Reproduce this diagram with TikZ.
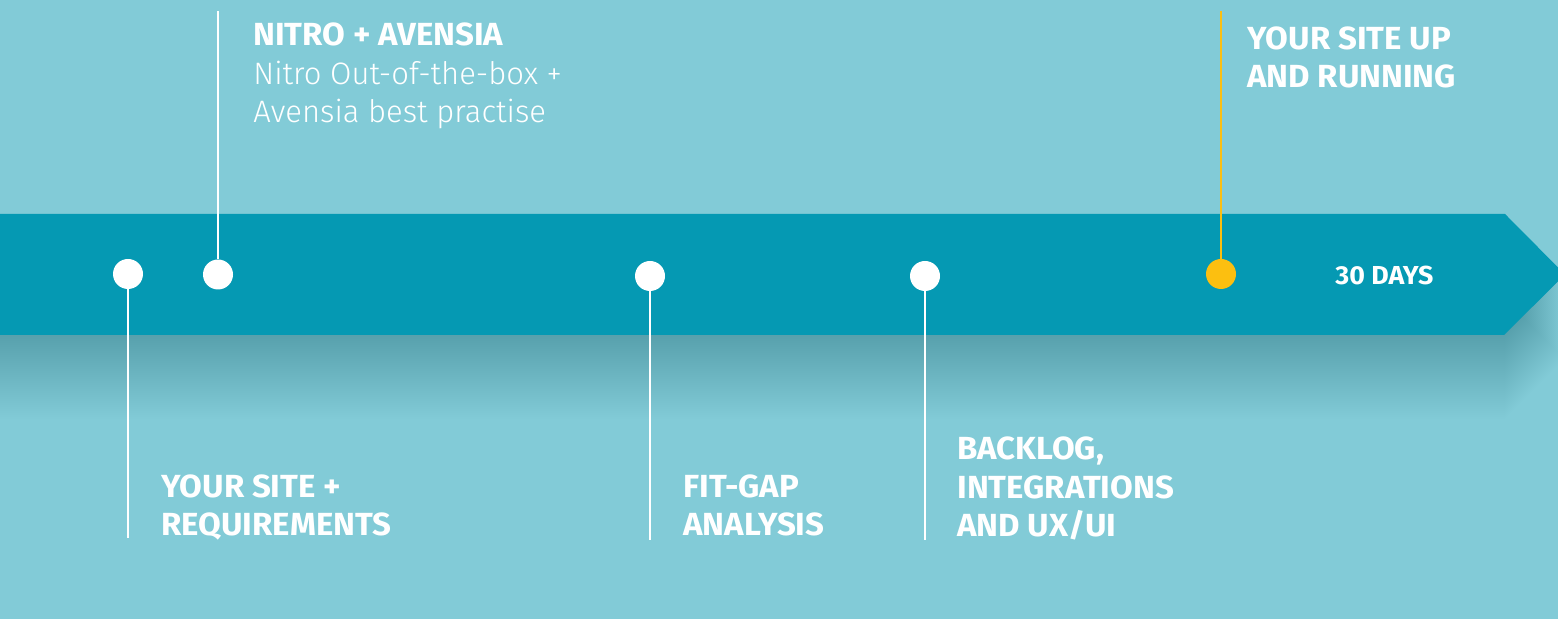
\documentclass[tikz,border=0pt]{standalone}
\usepackage{fontspec}
\setmainfont{Fira Sans}
\newfontfamily\boldf{Fira Sans Bold}[FakeStretch=1.03]
\newfontfamily\lightf{Fira Sans Light}
\definecolor{bg}{HTML}{82CBD7}
\definecolor{band}{HTML}{0599B3}
\definecolor{gold}{HTML}{FCBF10}
\newcommand{\lightsz}{\lightf\fontsize{15.5}{19.25}\selectfont}
\begin{document}
\begin{tikzpicture}[x=0.5pt,y=-0.5pt,
  lbl/.style={text=white, font=\boldf\fontsize{16}{19.25}\selectfont, align=left, inner sep=0, anchor=base west},
  dot/.style={circle, fill=white, inner sep=0, minimum size=15pt},
  golddot/.style={dot, fill=gold},
  conn/.style={draw=white, line width=1.45pt},
  goldconn/.style={conn, draw=gold}]
\useasboundingbox (0,0) rectangle (1558,619);
\clip (0,0) rectangle (1558,619);
\fill[bg] (0,0) rectangle (1558,619);
% soft shadow below the band
\foreach \s in {2,4,...,84}{
  \fill[black, opacity=0.0055, yshift=-\s*0.5pt]
    (-40,214) -- (1505,214) -- (1565,274.5) -- (1504,335) -- (-40,335) -- cycle;
}
% band
\fill[band] (-40,214) -- (1505,214) -- (1565,274.5) -- (1504,335) -- (-40,335) -- cycle;
% dots
\node[dot] (d1) at (128,274) {};
\node[dot] (d2) at (218,274.5) {};
\node[dot] (d3) at (650,276) {};
\node[dot] (d4) at (925,276) {};
\node[golddot] (d5) at (1221,274) {};
% line ends
\coordinate (e1) at (128,538);
\coordinate (e2) at (218,11);
\coordinate (e3) at (650,540);
\coordinate (e4) at (925,540);
\coordinate (e5) at (1221,11);
\draw[conn] (d1) -- (e1);
\draw[conn] (d2) -- (e2);
\draw[conn] (d3) -- (e3);
\draw[conn] (d4) -- (e4);
\draw[goldconn] (d5) -- (e5);
% texts
\node[lbl] (t2) at (253,123) {NITRO + AVENSIA\\\lightsz Nitro Out-of-the-box +\\\lightsz Avensia best practise};
\node[lbl] (t5) at (1247,88) {YOUR SITE UP\\AND RUNNING};
\node[lbl, font=\boldf\fontsize{13}{16}\selectfont, anchor=west] (t6) at (1335,275) {30 DAYS};
\node[lbl] (t1) at (161,536) {YOUR SITE +\\REQUIREMENTS};
\node[lbl] (t3) at (683,536) {FIT-GAP\\ANALYSIS};
\node[lbl] (t4) at (957,537) {BACKLOG,\\INTEGRATIONS\\AND UX/UI};
\end{tikzpicture}
\end{document}
